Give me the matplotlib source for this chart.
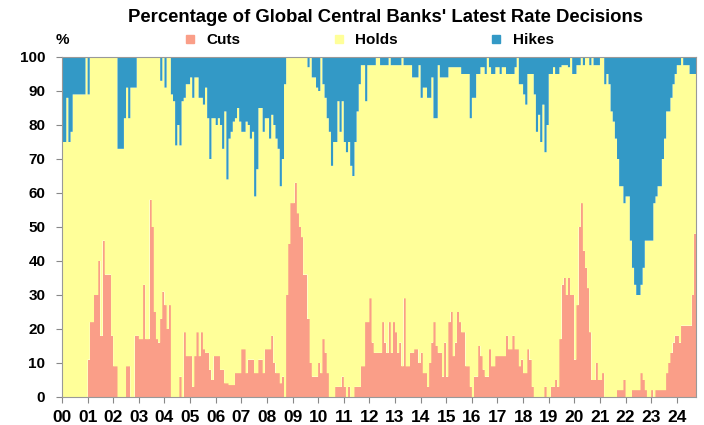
import matplotlib
matplotlib.use("Agg")
import matplotlib.pyplot as plt
from matplotlib.lines import Line2D
import numpy as np

plt.rcParams['font.family'] = ['Liberation Sans', 'DejaVu Sans']
plt.rcParams['font.weight'] = 'bold'

# monthly readings, Jan 2000 - Sep 2024 (% of central banks)
cuts = [
    0, 0, 0, 0, 0, 0, 0, 0, 0, 0, 0, 0,                      # 2000
    11, 22, 22, 30, 30, 40, 18, 46, 36, 36, 36, 18,          # 2001
    9, 9, 0, 0, 0, 0, 9, 9, 0, 0, 18, 18,                    # 2002
    17, 17, 33, 17, 17, 58, 50, 25, 17, 16, 23, 31,          # 2003
    27, 20, 27, 0, 0, 0, 0, 6, 0, 19, 12, 12,                # 2004
    12, 3, 12, 19, 12, 19, 14, 13, 13, 8, 5, 12,             # 2005
    12, 12, 8, 8, 4, 4, 3.5, 3.5, 3.5, 7, 7, 7,              # 2006
    14, 14, 7, 11, 11, 11, 7, 7, 11, 11, 7, 14,              # 2007
    14, 14, 18, 10, 7, 7, 4, 6, 0, 30, 45, 57,               # 2008
    57, 63, 54, 50, 47, 36, 36, 23, 10, 6, 6, 6,             # 2009
    10, 7, 17, 13, 7, 0, 0, 0, 3, 3, 3, 6,                   # 2010
    3, 0, 3, 0, 0, 3, 3, 3, 9, 9, 22, 22,                    # 2011
    29, 16, 13, 13, 13, 13, 22, 16, 13, 22, 13, 22,          # 2012
    19, 13, 16, 9, 29, 9, 9, 13, 13, 14, 14, 10,             # 2013
    13, 7, 7, 3, 10, 16, 22, 15, 13, 13, 6, 16,              # 2014
    6, 22, 25, 12, 16, 25, 22, 19, 19, 9, 9, 3,              # 2015
    0, 6, 6, 15, 12, 8, 6, 6, 14, 9, 9, 12,                  # 2016
    12, 12, 12, 12, 18, 14, 14, 18, 14, 14, 9, 11,           # 2017
    7, 7, 14, 11, 3, 0, 0, 0, 0, 0, 3, 0,                    # 2018
    0, 3, 3, 5, 3, 17, 33, 35, 30, 35, 30, 30,               # 2019
    11, 27, 50, 57, 43, 38, 32, 19, 5, 5, 10, 5,             # 2020
    5, 7, 0, 0, 0, 0, 0, 0, 2, 2, 2, 5,                      # 2021
    0, 0, 0, 2, 2, 2, 2, 7, 5, 2, 0, 0,                      # 2022
    2, 0, 2, 2, 2, 2, 2, 7, 10, 13, 16, 18,                  # 2023
    18, 16, 21, 21, 21, 21, 21, 30, 48,                      # 2024
]

hikes = [
    25, 25, 12, 25, 22, 11, 11, 11, 11, 11, 11, 0,           # 2000
    11, 0, 0, 0, 0, 0, 0, 0, 0, 0, 0, 0,                     # 2001
    0, 0, 27, 27, 27, 18, 9, 18, 9, 9, 9, 0,                 # 2002
    0, 0, 0, 0, 0, 0, 0, 0, 0, 0, 7, 0,                      # 2003
    9, 0, 0, 11, 13, 26, 20, 26, 13, 12, 8, 8,               # 2004
    6, 12, 6, 6, 12, 12, 14, 9, 18, 30, 18, 18,              # 2005
    20, 18, 20, 27, 16, 36, 24, 22, 19, 18, 15, 19,          # 2006
    22, 22, 19, 20, 24, 22, 41, 33, 15, 15, 22, 18,          # 2007
    18, 24, 17, 20, 24, 27, 38, 30, 8, 0, 0, 0,              # 2008
    0, 0, 0, 0, 0, 0, 0, 3, 0, 6, 6, 9,                      # 2009
    10, 0, 8, 12, 18, 22, 32, 25, 25, 13, 22, 13,            # 2010
    25, 28, 25, 32, 35, 25, 16, 8, 2.4, 2.4, 13, 2.4,        # 2011
    2.4, 2.4, 2.4, 0, 0, 2.4, 2.4, 2.4, 2.4, 0, 2.4, 2.4,    # 2012
    2.4, 2.4, 2.4, 0, 2.4, 2.4, 2.4, 2.4, 6, 6, 6, 2.4,      # 2013
    12, 9, 9, 12, 12, 6, 18, 18, 2.4, 6, 6, 6,               # 2014
    6, 3, 3, 3, 3, 3, 3, 5, 5, 5, 5, 18,                     # 2015
    12, 12, 5, 5, 3, 3, 5, 0, 3, 5, 5, 3,                    # 2016
    3, 5, 3, 3, 5, 5, 5, 5, 3, 0, 8, 8,                      # 2017
    11, 14, 5, 5, 5, 11, 22, 17, 25, 14, 28, 20,             # 2018
    5, 5, 3, 5, 5, 3, 2.4, 2.4, 2.4, 3, 0, 5,                # 2019
    5, 2.4, 2.4, 0, 2.4, 0, 0, 2.4, 0, 2.4, 2.4, 2.4,        # 2020
    0, 0, 8, 5, 8, 16, 19, 24, 30, 38, 38, 43,               # 2021
    41, 41, 54, 62, 67, 70, 70, 67, 62, 54, 54, 54,          # 2022
    54, 43, 41, 38, 38, 30, 24, 16, 16, 12, 8, 5,            # 2023
    2.4, 2.4, 0, 2.4, 2.4, 2.4, 5, 5, 5,                     # 2024
]

year_ticks = list(range(2000, 2025))
year_labels = [f"{y % 100:02d}" for y in year_ticks]

cut_col = '#FA9E88'
hold_col = '#FFFF99'
hike_col = '#3399C6'

cuts = np.array(cuts, dtype=float)
hikes = np.array(hikes, dtype=float)
holds = 100 - cuts - hikes
edges = 2000 + np.arange(len(cuts) + 1) / 12.0

fig = plt.figure(figsize=(7.04, 4.25), dpi=100)
ax = fig.add_axes([62 / 704, 1 - 397 / 425, (696 - 62) / 704, (397 - 57) / 425])

# stacked steps: one polygon per series, so no seams between months
ax.stairs(cuts, edges, baseline=0, fill=True, color=cut_col, linewidth=0)
ax.stairs(cuts + holds, edges, baseline=cuts, fill=True, color=hold_col, linewidth=0)
ax.stairs(cuts + holds + hikes, edges, baseline=cuts + holds, fill=True, color=hike_col, linewidth=0)

ax.set_xlim(edges[0], edges[-1])
ax.set_ylim(0, 100)
ax.set_yticks(range(0, 101, 10))
ax.set_xticks(year_ticks)
ax.set_xticklabels(year_labels, fontsize=12.5, fontweight='bold')
ax.tick_params(axis='y', labelsize=11, length=4, color='#888888', pad=8)
ax.tick_params(axis='x', length=4, color='#888888', pad=5)
for lab in ax.get_yticklabels():
    lab.set_fontweight('bold')
for sp in ax.spines.values():
    sp.set_color('#999999')
    sp.set_linewidth(0.8)
    sp.set_zorder(5)

fig.text(386 / 704, 1 - 17 / 425, "Percentage of Global Central Banks' Latest Rate Decisions",
         ha='center', va='center', fontsize=13.3, fontweight='bold')
fig.text(56 / 704, 1 - 40 / 425, '%', ha='left', va='center', fontsize=11, fontweight='bold')

handles = [Line2D([], [], marker='s', linestyle='', color=c, markersize=6)
           for c in (cut_col, hold_col, hike_col)]
fig.legend(handles, ['Cuts', 'Holds', 'Hikes'], loc='center left',
           bbox_to_anchor=(167 / 704, 1 - 40 / 425), ncol=3, frameon=False,
           handletextpad=0.1, columnspacing=5.4, borderpad=0,
           prop={'weight': 'bold', 'size': 11})

fig.savefig('out.png', dpi=100)
